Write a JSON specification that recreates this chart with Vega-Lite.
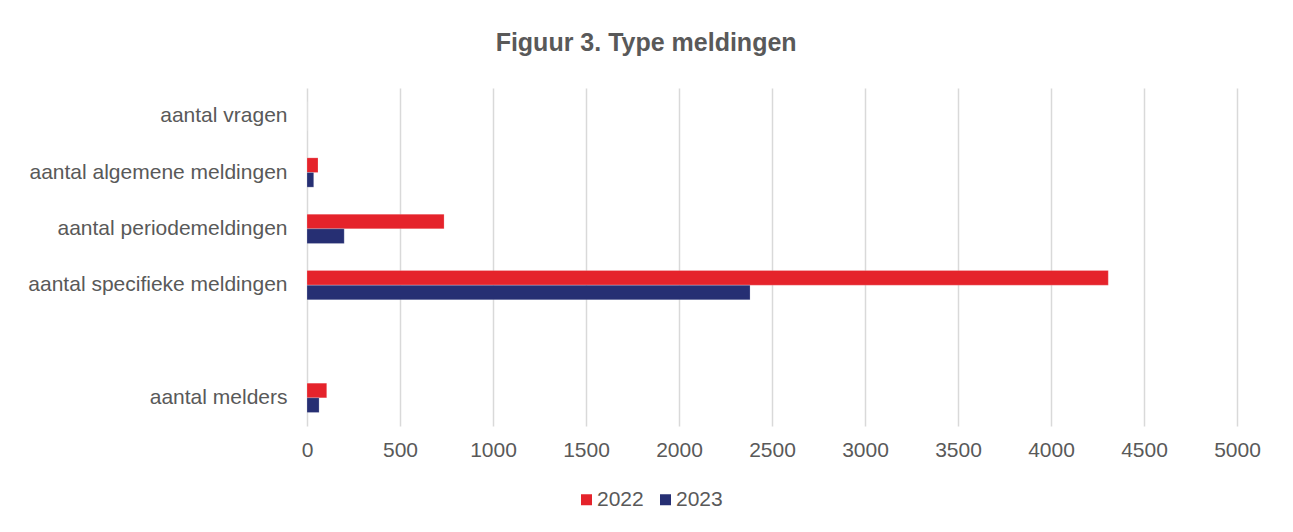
{
  "$schema": "https://vega.github.io/schema/vega-lite/v6.json",
  "autosize": {"type": "none"},
  "width": 930,
  "height": 338,
  "padding": {"left": 307, "top": 88, "right": 56, "bottom": 106},
  "background": "white",
  "title": {
    "text": "Figuur 3. Type meldingen",
    "font": "Liberation Sans",
    "fontSize": 25,
    "fontWeight": "bold",
    "color": "#595959",
    "anchor": "middle",
    "frame": "bounds",
    "offset": 32,
    "dx": 2
  },
  "data": {
    "values": [
      {"cat": "aantal vragen", "jaar": "2022", "waarde": 0},
      {"cat": "aantal vragen", "jaar": "2023", "waarde": 0},
      {"cat": "aantal algemene meldingen", "jaar": "2022", "waarde": 59},
      {"cat": "aantal algemene meldingen", "jaar": "2023", "waarde": 36},
      {"cat": "aantal periodemeldingen", "jaar": "2022", "waarde": 737},
      {"cat": "aantal periodemeldingen", "jaar": "2023", "waarde": 200},
      {"cat": "aantal specifieke meldingen", "jaar": "2022", "waarde": 4308},
      {"cat": "aantal specifieke meldingen", "jaar": "2023", "waarde": 2382},
      {"cat": " ", "jaar": "2022", "waarde": null},
      {"cat": " ", "jaar": "2023", "waarde": null},
      {"cat": "aantal melders", "jaar": "2022", "waarde": 106},
      {"cat": "aantal melders", "jaar": "2023", "waarde": 65}
    ]
  },
  "mark": {"type": "bar", "stroke": "white", "strokeOpacity": 0.4, "strokeWidth": 0.5},
  "encoding": {
    "y": {
      "field": "cat",
      "type": "nominal",
      "sort": ["aantal vragen", "aantal algemene meldingen", "aantal periodemeldingen", "aantal specifieke meldingen", " ", "aantal melders"],
      "scale": {"paddingInner": 0.48, "paddingOuter": 0.24},
      "axis": {
        "title": null,
        "ticks": false,
        "domain": false,
        "labelPadding": 20,
        "labelLimit": 400,
        "labelFont": "Liberation Sans",
        "labelFontSize": 21,
        "labelColor": "#595959"
      }
    },
    "yOffset": {"field": "jaar", "type": "nominal", "sort": ["2022", "2023"]},
    "x": {
      "field": "waarde",
      "type": "quantitative",
      "scale": {"domain": [0, 5000], "nice": false},
      "axis": {
        "title": null,
        "values": [0, 500, 1000, 1500, 2000, 2500, 3000, 3500, 4000, 4500, 5000],
        "format": "d",
        "ticks": false,
        "domain": false,
        "grid": true,
        "gridColor": "#d9d9d9",
        "gridWidth": 1.5,
        "labelFlush": false,
        "labelPadding": 13,
        "labelFont": "Liberation Sans",
        "labelFontSize": 21,
        "labelColor": "#595959"
      }
    },
    "color": {
      "field": "jaar",
      "type": "nominal",
      "scale": {"domain": ["2022", "2023"], "range": ["#e5232b", "#262f73"]},
      "legend": {
        "title": null,
        "orient": "none",
        "legendX": 269,
        "legendY": 401,
        "direction": "horizontal",
        "symbolType": "square",
        "symbolSize": 121,
        "symbolStrokeWidth": 0,
        "labelFont": "Liberation Sans",
        "labelFontSize": 21,
        "labelColor": "#595959",
        "columnPadding": 11,
        "labelOffset": 0
      }
    }
  },
  "config": {"view": {"stroke": null}}
}
